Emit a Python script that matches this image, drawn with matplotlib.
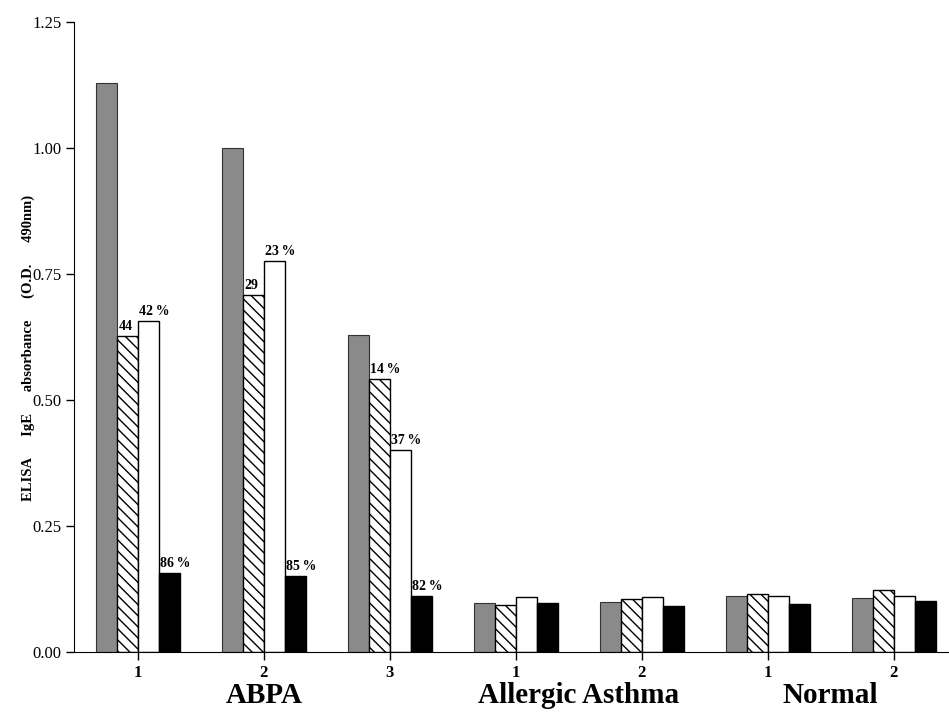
import matplotlib
matplotlib.use("Agg")
import matplotlib.pyplot as plt
import numpy as np

plt.rcParams['font.family'] = ['Liberation Serif', 'DejaVu Serif']
plt.rcParams['hatch.linewidth'] = 1.0

# patient columns
tick_labels = ['1', '2', '3', '1', '2', '1', '2']
group_names = ['ABPA', 'Allergic Asthma', 'Normal']
group_members = [[0, 1, 2], [3, 4], [5, 6]]

# four series per patient
gray_vals = [1.13, 1.00, 0.63, 0.098, 0.100, 0.111, 0.107]
hatch_vals = [0.627, 0.708, 0.542, 0.093, 0.105, 0.116, 0.123]
white_vals = [0.657, 0.776, 0.400, 0.109, 0.109, 0.112, 0.112]
black_vals = [0.157, 0.151, 0.112, 0.098, 0.091, 0.095, 0.101]

# percent labels (None = no label)
hatch_pct = ['44', '29', '14\u2009%', None, None, None, None]
white_pct = ['42\u2009%', '23\u2009%', '37\u2009%', None, None, None, None]
black_pct = ['86\u2009%', '85\u2009%', '82\u2009%', None, None, None, None]

fig = plt.figure(figsize=(9.49, 7.14), dpi=100)
ax = fig.add_axes([0.078, 0.0868, 0.922, 0.8823])

x = np.arange(len(tick_labels))
w = 1 / 6

ax.bar(x - 1.5 * w, gray_vals, w, color='#8a8a8a', edgecolor='#333333', linewidth=0.8)
bh = ax.bar(x - 0.5 * w, hatch_vals, w, color='white', edgecolor='black', linewidth=1.0, hatch='\\\\\\')
bw = ax.bar(x + 0.5 * w, white_vals, w, color='white', edgecolor='black', linewidth=1.0)
bb = ax.bar(x + 1.5 * w, black_vals, w, color='black', edgecolor='black', linewidth=1.0)

for bars, labels, vals in [(bh, hatch_pct, hatch_vals), (bw, white_pct, white_vals), (bb, black_pct, black_vals)]:
    for b, lab, v in zip(bars, labels, vals):
        if lab is None:
            continue
        ax.text(b.get_x() + 0.01, v + 0.006, lab, ha='left', va='bottom',
                fontsize=10, fontweight='bold')

ax.set_xlim(-0.508, 6.44)
ax.set_ylim(0, 1.25)
yt = [0, 0.25, 0.5, 0.75, 1.0, 1.25]
ax.set_yticks(yt)
ax.set_yticklabels(['%.2f' % t for t in yt], fontsize=12)
ax.set_xticks(x)
ax.set_xticklabels(tick_labels, fontsize=12, fontweight='bold')
ax.tick_params(axis='both', direction='out', length=6, width=1, pad=3)
ax.spines['top'].set_visible(False)
ax.spines['right'].set_visible(False)

ax.set_ylabel('ELISA      IgE      absorbance      (O.D.      490nm)', fontsize=10.5,
              fontweight='bold')
ax.yaxis.set_label_coords(-0.045, 0.483)

for name, members in zip(group_names, group_members):
    cx = np.mean([x[i] for i in members])
    ax.text(cx, -0.101, name, ha='center', va='baseline', fontsize=21, fontweight='bold')

fig.savefig('out.png', dpi=100)
